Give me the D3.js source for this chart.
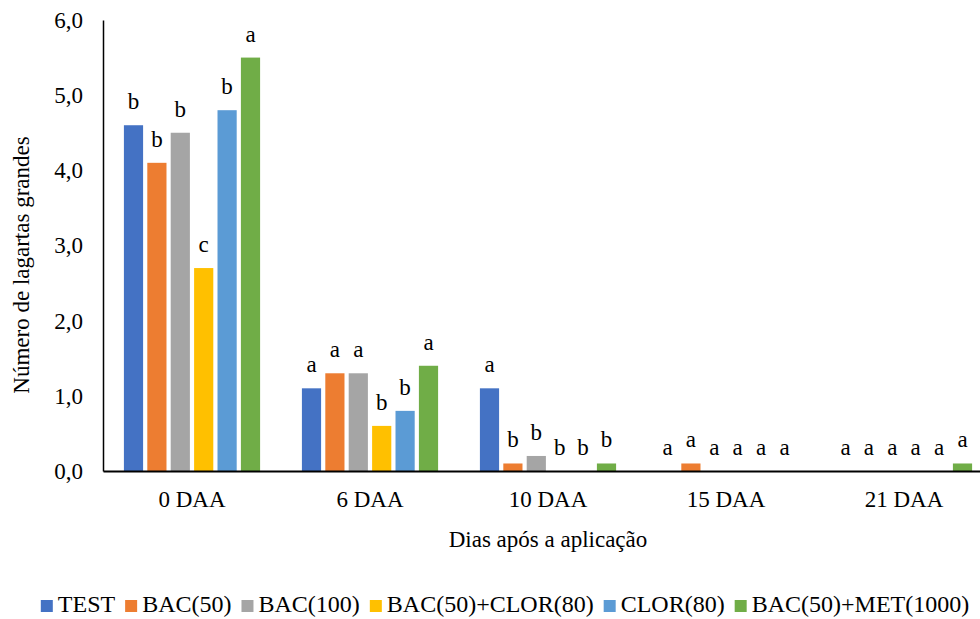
<!DOCTYPE html>
<html>
<head>
<meta charset="utf-8">
<script src="https://cdn.jsdelivr.net/npm/d3@7"></script>
<style>
  body { margin: 0; background: #fff; }
  svg text { font-family: "Liberation Serif", "DejaVu Serif", serif; fill: #000; }
</style>
</head>
<body>
<div id="chart"></div>
<script>
// categories and series
var categories = ["0 DAA", "6 DAA", "10 DAA", "15 DAA", "21 DAA"];
var series = ["TEST", "BAC(50)", "BAC(100)", "BAC(50)+CLOR(80)", "CLOR(80)", "BAC(50)+MET(1000)"];
var colors = ["#4472C4", "#ED7D31", "#A5A5A5", "#FFC000", "#5B9BD5", "#70AD47"];

// values per series, one per category
var TEST       = [4.6, 1.1, 1.1, 0.0, 0.0];
var BAC50      = [4.1, 1.3, 0.1, 0.1, 0.0];
var BAC100     = [4.5, 1.3, 0.2, 0.0, 0.0];
var BAC50CLOR  = [2.7, 0.6, 0.0, 0.0, 0.0];
var CLOR80     = [4.8, 0.8, 0.0, 0.0, 0.0];
var BAC50MET   = [5.5, 1.4, 0.1, 0.0, 0.1];
var values = [TEST, BAC50, BAC100, BAC50CLOR, CLOR80, BAC50MET];

// significance letters per series
var lettersTEST      = ["b", "a", "a", "a", "a"];
var lettersBAC50     = ["b", "a", "b", "a", "a"];
var lettersBAC100    = ["b", "a", "b", "a", "a"];
var lettersBAC50CLOR = ["c", "b", "b", "a", "a"];
var lettersCLOR80    = ["b", "b", "b", "a", "a"];
var lettersBAC50MET  = ["a", "a", "b", "a", "a"];
var letters = [lettersTEST, lettersBAC50, lettersBAC100, lettersBAC50CLOR, lettersCLOR80, lettersBAC50MET];

var yTicks = [0, 1, 2, 3, 4, 5, 6];

var W = 980, H = 619;
var margin = {left: 103, right: 993, top: 20, bottom: 471};
var serif = "'Liberation Serif', 'DejaVu Serif', serif";

var svg = d3.select("#chart").append("svg")
  .attr("width", W)
  .attr("height", H)
  .attr("font-family", serif);

var x = d3.scaleBand()
  .domain(categories)
  .range([margin.left, margin.right])
  .padding(0);

var groupW = 6 * 23.4;
var xs = d3.scaleBand()
  .domain(series)
  .range([(x.bandwidth() - groupW) / 2, (x.bandwidth() + groupW) / 2])
  .paddingInner(0.18)
  .paddingOuter(0.09);

var y = d3.scaleLinear()
  .domain([0, 6])
  .range([margin.bottom, margin.top]);

var color = d3.scaleOrdinal().domain(series).range(colors);

// flatten to records
var rows = [];
categories.forEach(function(c, ci) {
  series.forEach(function(s, si) {
    rows.push({cat: c, name: s, value: values[si][ci], letter: letters[si][ci]});
  });
});

// bars
svg.append("g").selectAll("rect")
  .data(rows)
  .enter()
  .append("rect")
  .attr("x", function(d) { return x(d.cat) + xs(d.name); })
  .attr("y", function(d) { return y(d.value); })
  .attr("width", xs.bandwidth())
  .attr("height", function(d) { return y(0) - y(d.value); })
  .attr("fill", function(d) { return color(d.name); });

// letters above bars
svg.append("g").selectAll("text")
  .data(rows)
  .enter()
  .append("text")
  .attr("x", function(d) { return x(d.cat) + xs(d.name) + xs.bandwidth() / 2; })
  .attr("y", function(d) { return y(d.value) - 16; })
  .style("text-anchor", "middle")
  .style("font-size", "23px")
  .text(function(d) { return d.letter; });

// y axis
var yAxis = svg.append("g")
  .attr("transform", "translate(" + margin.left + ",0)")
  .call(d3.axisLeft(y)
    .tickValues(yTicks)
    .tickSize(0)
    .tickPadding(20)
    .tickFormat(function(d) { return d3.format(".1f")(d).replace(".", ","); }));
yAxis.attr("font-family", serif);
yAxis.select(".domain").attr("stroke", "#000").attr("stroke-width", 1.5);
yAxis.selectAll("text").style("font-size", "23px");

// x axis
var xAxis = svg.append("g")
  .attr("transform", "translate(0," + margin.bottom + ")")
  .call(d3.axisBottom(x).tickSize(0).tickPadding(20));
xAxis.attr("font-family", serif);
xAxis.select(".domain").attr("stroke", "#000").attr("stroke-width", 2.2);
xAxis.selectAll("text").style("font-size", "23px");

// axis titles
svg.append("text")
  .attr("transform", "translate(29,265) rotate(-90)")
  .style("text-anchor", "middle")
  .style("font-size", "23px")
  .text("Número de lagartas grandes");

svg.append("text")
  .attr("x", 548)
  .attr("y", 547)
  .style("text-anchor", "middle")
  .style("font-size", "23px")
  .text("Dias após a aplicação");

// legend
var legend = svg.append("g");
var items = legend.selectAll("g")
  .data(series)
  .enter()
  .append("g");
items.append("rect")
  .attr("width", 12)
  .attr("height", 12)
  .attr("y", -12)
  .attr("fill", function(d) { return color(d); });
items.append("text")
  .attr("x", 17)
  .style("font-size", "24px")
  .text(function(d) { return d; });

var pos = 0;
items.each(function() {
  var g = d3.select(this);
  g.attr("transform", "translate(" + pos + ",0)");
  pos += 17 + g.select("text").node().getComputedTextLength() + 10;
});
pos -= 10;
legend.attr("transform", "translate(" + (505 - pos / 2) + ",612)");
</script>
</body>
</html>
